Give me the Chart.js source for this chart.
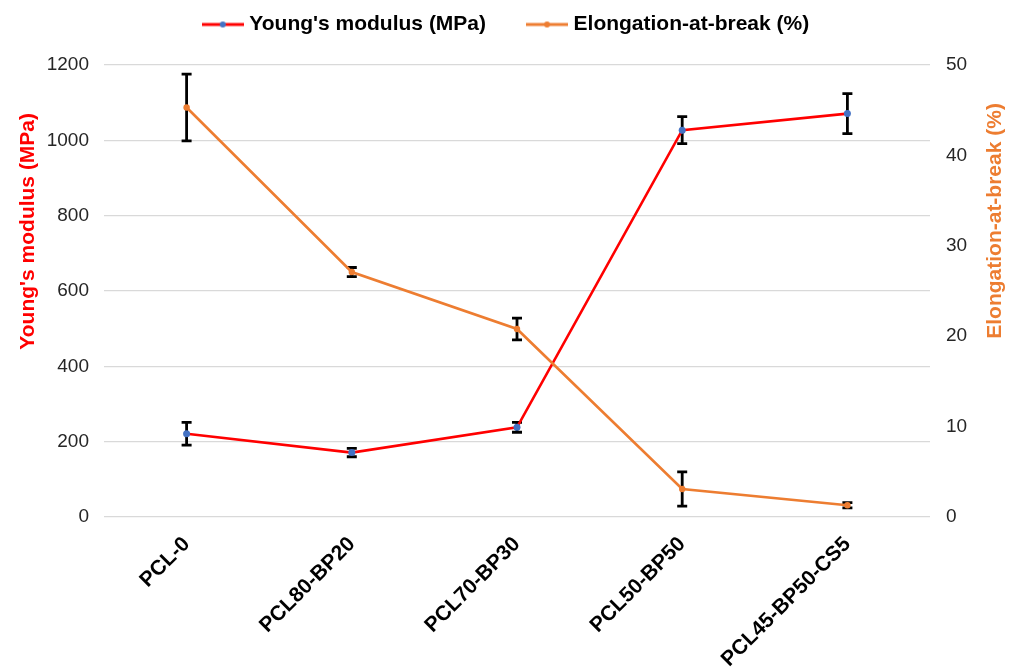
<!DOCTYPE html>
<html>
<head>
<meta charset="utf-8">
<script src="https://cdn.jsdelivr.net/npm/chart.js@4.4.1/dist/chart.umd.min.js"></script>
<style>
  html, body { margin: 0; padding: 0; background: #ffffff; }
  #wrap { width: 1016px; height: 668px; position: relative; }
</style>
</head>
<body>
<div id="wrap"><canvas id="chart" width="1016" height="668"></canvas></div>
<script>
// Sample formulations
const categories = ['PCL-0', 'PCL80-BP20', 'PCL70-BP30', 'PCL50-BP50', 'PCL45-BP50-CS5'];

// Young's modulus (MPa) and its standard deviation
const modulus    = [221, 171, 238, 1027, 1071];
const modulusErr = [30, 11, 13, 36, 53];

// Elongation at break (%) and its standard deviation
const elongation    = [45.3, 27.1, 20.8, 3.1, 1.3];
const elongationErr = [3.7, 0.5, 1.2, 1.9, 0.3];

// Axis ranges
const modulusAxis    = { min: 0, max: 1200, step: 200 };
const elongationAxis = { min: 0, max: 50, step: 10 };

const FONT = "'Liberation Sans', Arial, sans-serif";
const RED = '#FF0000';
const ORANGE = '#ED7D31';
const BLUE = '#4472C4';

// Small line-with-marker swatch for the legend
function legendMark(lineColor, dotColor) {
  const c = document.createElement('canvas');
  c.width = 42; c.height = 8;
  const g = c.getContext('2d');
  g.strokeStyle = lineColor; g.lineWidth = 3;
  g.beginPath(); g.moveTo(0, 4); g.lineTo(42, 4); g.stroke();
  g.fillStyle = dotColor;
  g.beginPath(); g.arc(21, 4, 3, 0, Math.PI * 2); g.fill();
  return c;
}
const legendMarks = [legendMark(RED, BLUE), legendMark(ORANGE, ORANGE)];

// Vertical error bars with caps, drawn beneath the series lines
const errorBarsPlugin = {
  id: 'errorBars',
  beforeDatasetsDraw(chart) {
    const ctx = chart.ctx;
    ctx.save();
    ctx.strokeStyle = '#000000';
    ctx.lineWidth = 2.8;
    ctx.lineCap = 'butt';
    chart.data.datasets.forEach((ds, i) => {
      const meta = chart.getDatasetMeta(i);
      const scale = chart.scales[ds.yAxisID];
      ds.data.forEach((v, j) => {
        const e = ds.errorBars[j];
        const x = meta.data[j].x;
        const yTop = scale.getPixelForValue(v + e);
        const yBot = scale.getPixelForValue(v - e);
        const cap = 5;
        ctx.beginPath();
        ctx.moveTo(x, yTop); ctx.lineTo(x, yBot);
        ctx.moveTo(x - cap, yTop); ctx.lineTo(x + cap, yTop);
        ctx.moveTo(x - cap, yBot); ctx.lineTo(x + cap, yBot);
        ctx.stroke();
      });
    });
    ctx.restore();
  }
};

// Vertical axis titles
const axisTitlesPlugin = {
  id: 'axisTitles',
  afterDraw(chart) {
    const ctx = chart.ctx;
    const a = chart.chartArea;
    const h = a.bottom - a.top;
    const draw = (text, color, size, x, y) => {
      ctx.save();
      ctx.translate(x, y);
      ctx.rotate(-Math.PI / 2);
      ctx.font = 'bold ' + size + 'px ' + FONT;
      ctx.fillStyle = color;
      ctx.textAlign = 'center';
      ctx.textBaseline = 'middle';
      ctx.fillText(text, 0, 0);
      ctx.restore();
    };
    draw("Young's modulus (MPa)", RED, 21, 28, a.top + h * 0.368);
    draw('Elongation-at-break (%)', ORANGE, 21, 995, a.top + h * 0.345);
  }
};

// Legend sits above the plot; its box height is fixed so the plot starts at a set offset
const LEGEND_TOP = -31;
const PLOT_TOP = 65;
const legendHeightPlugin = {
  id: 'legendHeight',
  afterInit(chart) {
    const lg = chart.legend;
    if (!lg) return;
    const fit = lg.fit.bind(lg);
    lg.fit = function () { fit(); this.height = PLOT_TOP - LEGEND_TOP; };
  }
};

const plainNumber = v => String(v);

new Chart(document.getElementById('chart'), {
  type: 'line',
  data: {
    labels: categories,
    datasets: [
      {
        label: "Young's modulus (MPa)",
        data: modulus,
        errorBars: modulusErr,
        yAxisID: 'yL',
        borderColor: RED,
        backgroundColor: RED,
        borderWidth: 2.6,
        pointRadius: 3.5,
        pointBackgroundColor: BLUE,
        pointBorderWidth: 0,
        tension: 0,
        order: 2
      },
      {
        label: 'Elongation-at-break (%)',
        data: elongation,
        errorBars: elongationErr,
        yAxisID: 'yR',
        borderColor: ORANGE,
        backgroundColor: ORANGE,
        borderWidth: 2.6,
        pointRadius: 3.2,
        pointBackgroundColor: ORANGE,
        pointBorderWidth: 0,
        tension: 0,
        order: 1
      }
    ]
  },
  options: {
    responsive: false,
    devicePixelRatio: 1,
    animation: false,
    layout: { padding: { top: LEGEND_TOP, left: 0, right: 0, bottom: 0 } },
    plugins: {
      tooltip: { enabled: false },
      legend: {
        position: 'top',
        labels: {
          usePointStyle: true,
          pointStyleWidth: 32,
          padding: 45,
          color: '#000000',
          font: { family: FONT, size: 21, weight: 'bold' },
          sort: (a, b) => a.datasetIndex - b.datasetIndex,
          generateLabels(chart) {
            const items = Chart.defaults.plugins.legend.labels.generateLabels(chart);
            items.forEach(it => { it.pointStyle = legendMarks[it.datasetIndex]; });
            return items;
          }
        }
      }
    },
    scales: {
      x: {
        type: 'category',
        offset: true,
        grid: { display: false, drawTicks: false },
        border: { display: false },
        ticks: {
          autoSkip: false,
          minRotation: 45,
          maxRotation: 45,
          padding: 15,
          color: '#000000',
          font: { family: FONT, size: 21, weight: 'bold' }
        },
        afterFit(s) { s.height = 151; }
      },
      yL: {
        position: 'left',
        min: modulusAxis.min,
        max: modulusAxis.max,
        grid: { color: '#D9D9D9', lineWidth: 1.3, drawTicks: false },
        border: { display: false },
        ticks: {
          stepSize: modulusAxis.step,
          padding: 15,
          color: '#262626',
          font: { family: FONT, size: 19 },
          callback: plainNumber
        },
        afterFit(s) { s.width = 104; }
      },
      yR: {
        position: 'right',
        min: elongationAxis.min,
        max: elongationAxis.max,
        grid: { display: false, drawTicks: false },
        border: { display: false },
        ticks: {
          stepSize: elongationAxis.step,
          padding: 16,
          color: '#262626',
          font: { family: FONT, size: 19 },
          callback: plainNumber
        },
        afterFit(s) { s.width = 86; }
      }
    }
  },
  plugins: [legendHeightPlugin, errorBarsPlugin, axisTitlesPlugin]
});
</script>
</body>
</html>
